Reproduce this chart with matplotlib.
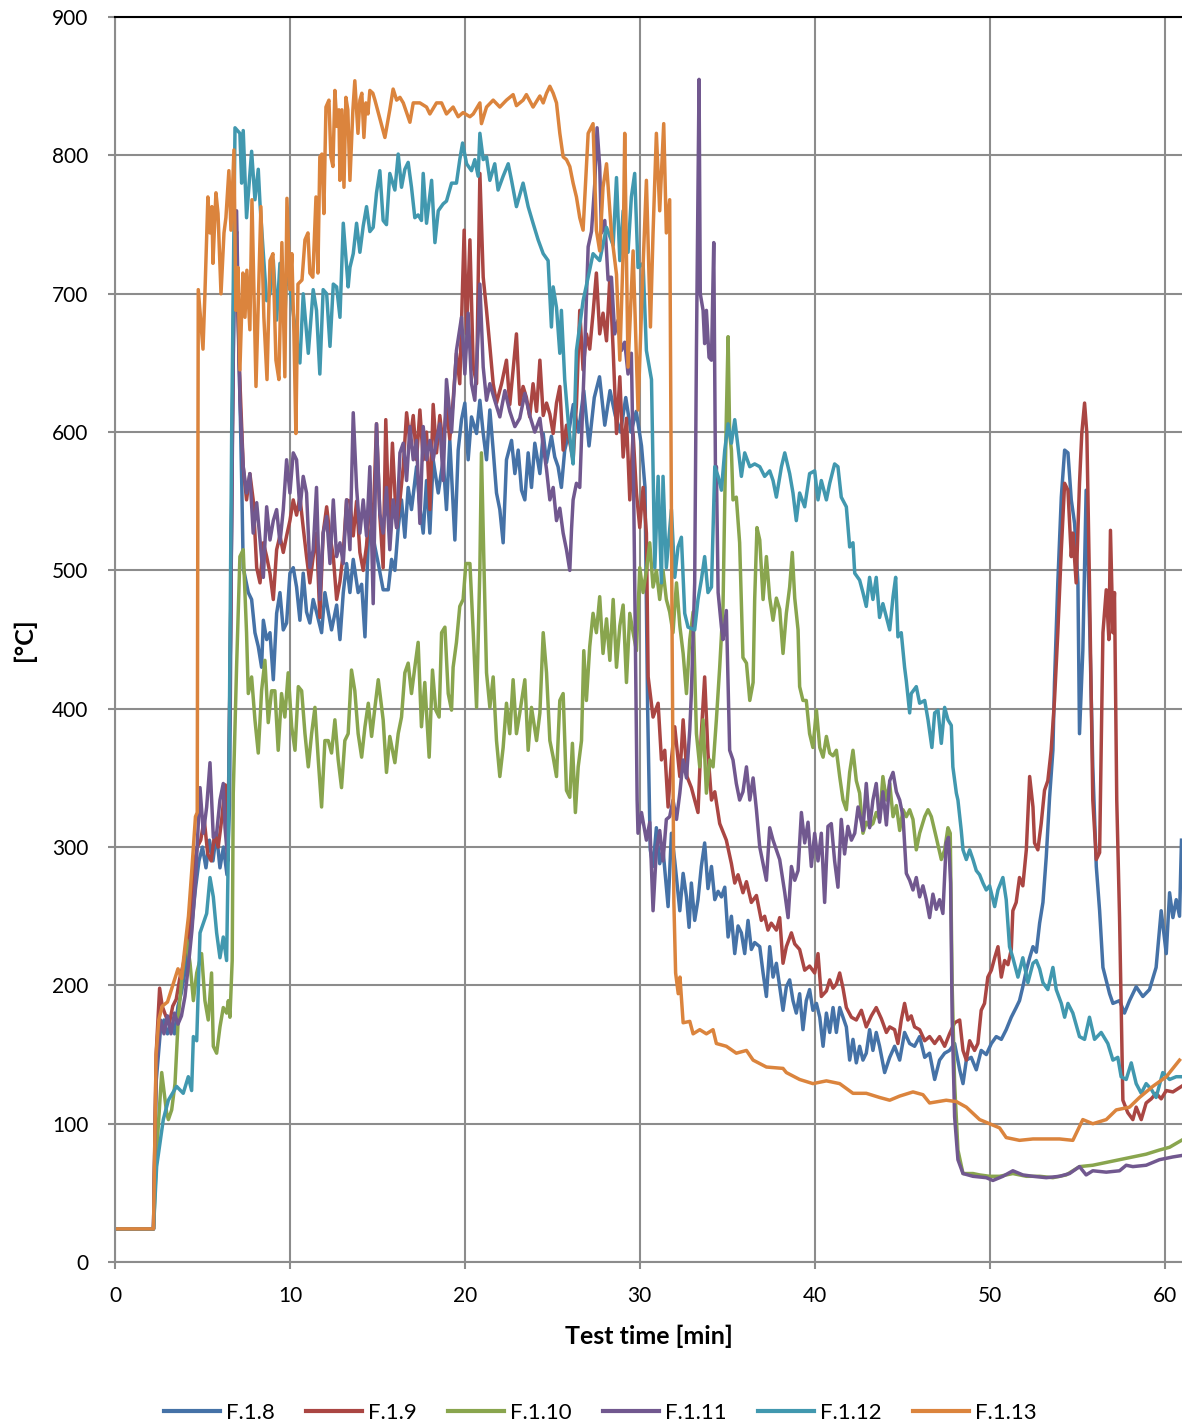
import matplotlib
matplotlib.use("Agg")
import matplotlib.pyplot as plt

plt.rcParams['font.family'] = ['Lato', 'DejaVu Sans']

# --- datos (tiempo [min], temperatura [C]) ---
t_f18 = [0, 2.2, 2.35, 2.6, 2.8, 3.0, 3.2, 3.4, 3.6, 3.8, 4.0, 4.2, 4.4, 4.6, 4.8, 5.0, 5.2, 5.4, 5.6, 5.8, 6.0, 6.2, 6.4, 6.55, 6.7, 6.85, 7.0, 7.15, 7.25,
         7.33, 7.62, 7.81, 8.0, 8.19, 8.38, 8.48, 8.67, 8.86, 9.05, 9.24, 9.43, 9.62, 9.81, 10.0, 10.19, 10.38, 10.57, 10.76, 10.95, 11.14, 11.33, 11.52, 11.81, 12.0, 12.19, 12.38, 12.67, 12.86, 13.05, 13.24, 13.43, 13.62, 13.9, 14.1, 14.29, 14.48, 14.67, 14.86, 15.05,
         15.33, 15.62, 15.81, 16.0, 16.19, 16.38, 16.57, 16.76, 16.95, 17.24, 17.43, 17.62, 17.81, 18.0, 18.19, 18.48, 18.76, 18.95, 19.14, 19.43, 19.62, 19.81, 20.0, 20.19, 20.38, 20.67, 20.86, 21.05, 21.24, 21.43, 21.62, 21.81, 22.0, 22.19, 22.38, 22.67, 22.86, 23.05, 23.24, 23.43, 23.62, 23.81, 24.0, 24.29, 24.48, 24.67, 24.95, 25.14, 25.33, 25.52, 25.71, 25.9,
         26.2, 26.5, 26.8, 27.1, 27.4, 27.7, 28.0, 28.3, 28.6, 28.9, 29.2, 29.5, 29.8, 30.1, 30.3, 30.45, 30.6,
         30.76, 30.95, 31.14, 31.33, 31.62, 31.81, 32.0, 32.29, 32.48, 32.67, 32.82, 32.95, 33.14, 33.33, 33.52, 33.71, 33.9, 34.1, 34.29, 34.48, 34.67, 34.86, 35.05, 35.24, 35.43, 35.62, 35.81, 36.0, 36.19, 36.38, 36.57, 36.86, 37.05, 37.24, 37.43, 37.62, 37.81, 38.0, 38.19, 38.38, 38.57, 38.76, 38.95, 39.14, 39.33, 39.52, 39.71, 39.9, 40.1, 40.29, 40.48, 40.67, 40.86, 41.05, 41.24, 41.43, 41.62, 41.81, 42.0, 42.19, 42.38, 42.57, 42.76, 42.95, 43.14, 43.33, 43.52, 43.71,
         44.0, 44.29, 44.57, 44.86, 45.14, 45.43, 45.71, 46.0, 46.29, 46.57, 46.86, 47.14, 47.43, 47.71, 48.0, 48.29, 48.48, 48.67, 48.95, 49.24, 49.52, 49.81, 50.1, 50.38, 50.67, 50.95, 51.24, 51.52, 51.71, 51.9, 52.1, 52.29, 52.48, 52.67, 52.86, 53.05, 53.24, 53.43, 53.62,
         53.71, 53.9, 54.1, 54.29, 54.48, 54.67, 54.86, 55.05, 55.14, 55.33, 55.52, 55.71, 55.9,
         56.1, 56.29, 56.48, 56.86, 57.05, 57.43, 57.71, 58.0, 58.38, 58.76, 59.14, 59.52, 59.81, 60.1, 60.29, 60.48, 60.67, 60.86, 60.97]
v_f18 = [24, 24, 130, 168, 175, 165, 172, 165, 185, 195, 210, 225, 245, 270, 290, 300, 285, 305, 290, 310, 285, 300, 280, 330, 600, 740, 700, 620, 560,
         502, 484, 479, 455, 445, 430, 464, 450, 455, 421, 469, 484, 457, 462, 498, 502, 488, 464, 498, 470, 462, 479, 470, 455, 484, 470, 457, 475, 450, 484, 505, 484, 508, 484, 490, 452, 522, 531, 517, 505,
         486, 486, 508, 500, 531, 551, 524, 560, 544, 575, 546, 527, 565, 527, 580, 556, 580, 544, 594, 522, 587, 609, 621, 580, 611, 599, 623, 599, 580, 616, 587, 556, 544, 520, 580, 594, 570, 587, 558, 551, 585, 560, 592, 570, 599, 578, 597, 582, 575, 560, 587, 597,
         620, 600, 630, 590, 625, 640, 605, 630, 612, 600, 625, 600, 615, 590, 560, 400, 298,
         286, 314, 288, 298, 257, 310, 290, 254, 281, 264, 242, 274, 247, 262, 286, 303, 270, 286, 262, 268, 264, 271, 235, 250, 223, 243, 238, 223, 247, 226, 231, 228, 209, 192, 228, 206, 216, 199, 182, 199, 204, 189, 180, 194, 168, 189, 197, 182, 187, 177, 156, 180, 166, 184, 166, 184, 177, 170, 146, 161, 144, 156, 146, 151, 168, 153, 166, 156,
         137, 148, 156, 146, 166, 158, 156, 163, 148, 151, 132, 146, 151, 153, 158, 139, 129, 146, 148, 139, 153, 150, 158, 163, 161, 168, 177, 184, 189, 199, 211, 220, 228, 224, 245, 260, 293, 336, 370,
         419, 491, 553, 587, 585, 551, 534, 491, 382, 442, 558, 466, 358,
         286, 254, 213, 194, 187, 189, 180, 189, 199, 192, 197, 213, 254, 223, 267, 249, 262, 250, 305]

t_f19 = [0, 2.2, 2.35, 2.55, 2.7, 2.9, 3.1, 3.3, 3.5, 3.7, 3.9, 4.1, 4.3, 4.5, 4.7, 4.9, 5.1, 5.3, 5.5, 5.7, 5.9, 6.1, 6.3, 6.45, 6.6, 6.8, 6.95, 7.1, 7.25,
         7.33, 7.52, 7.71, 7.9, 8.1, 8.29, 8.48, 8.67, 8.86, 9.05, 9.24, 9.43, 9.62, 9.81, 10.0, 10.19, 10.38, 10.57, 10.76, 10.95, 11.14, 11.33, 11.52, 11.71, 11.9, 12.1, 12.29, 12.48, 12.67, 12.86, 13.05, 13.24, 13.43, 13.62, 13.81, 14.0, 14.19, 14.38, 14.57, 14.76, 14.95, 15.14, 15.33, 15.48, 15.67, 15.86, 16.1, 16.29,
         16.48, 16.67, 16.86, 17.05, 17.24, 17.43, 17.62, 17.81, 18.0, 18.19, 18.38, 18.57, 18.76, 18.95, 19.14, 19.33, 19.52, 19.71, 19.96, 20.1, 20.29, 20.48, 20.67, 20.86, 21.05, 21.24, 21.43, 21.62, 21.81, 22.1, 22.38, 22.57, 22.76, 22.95, 23.14, 23.33, 23.52, 23.71, 23.9, 24.1, 24.29, 24.48, 24.67, 24.86, 25.05, 25.24, 25.43, 25.62, 25.81, 26.19, 26.38, 26.57, 26.76, 26.95, 27.14, 27.33, 27.52, 27.71, 27.9, 28.1, 28.29, 28.48, 28.67, 28.86, 29.05, 29.24, 29.43, 29.62, 29.81, 30.0, 30.19, 30.38,
         30.48, 30.76, 31.05, 31.24, 31.43, 31.62, 31.81, 32.0, 32.29, 32.48, 32.7, 32.95, 33.14, 33.33, 33.52, 33.71, 33.9, 34.1, 34.29, 34.57, 34.95,
         35.24, 35.43, 35.62, 35.9, 36.1, 36.38, 36.67, 36.95, 37.14, 37.33, 37.52, 37.81, 38.0, 38.19, 38.38, 38.67, 38.86, 39.14, 39.43, 39.71, 40.0, 40.19, 40.38, 40.67, 40.86, 41.05, 41.24, 41.43, 41.62, 41.81, 42.1, 42.38, 42.67, 42.95, 43.24, 43.52, 43.81, 44.1, 44.29, 44.57, 44.76, 44.95, 45.14, 45.33, 45.52, 45.71,
         46.0, 46.29, 46.57, 46.86, 47.14, 47.43, 47.71, 48.0, 48.29, 48.48, 48.67, 48.86, 49.14, 49.33, 49.52, 49.71, 49.9, 50.1, 50.29, 50.48, 50.67, 50.86, 51.05, 51.24, 51.33, 51.52, 51.71, 51.9, 52.1, 52.29, 52.48, 52.57, 52.76, 52.95, 53.14, 53.33,
         53.52, 53.71, 53.9, 54.1, 54.29, 54.48, 54.67, 54.76, 54.95, 55.14, 55.27, 55.43, 55.56, 55.71, 55.9,
         56.1, 56.29, 56.38, 56.48, 56.67, 56.82, 56.91, 57.05, 57.14, 57.27, 57.43, 57.62, 57.9, 58.19, 58.38, 58.67, 58.95, 59.24, 59.52, 59.81, 60.1, 60.48, 60.97]
v_f19 = [24, 24, 150, 198, 185, 178, 172, 185, 190, 205, 215, 230, 245, 285, 300, 305, 320, 295, 290, 310, 300, 320, 345, 300, 450, 720, 745, 650, 600,
         575, 551, 570, 551, 502, 491, 520, 510, 498, 479, 515, 525, 513, 525, 536, 551, 540, 553, 531, 510, 491, 510, 527, 466, 527, 546, 525, 510, 479, 492, 513, 551, 550, 525, 550, 513, 500, 518, 551, 535, 606, 540, 502, 609, 530, 592, 531, 551,
         575, 614, 593, 612, 580, 616, 580, 600, 544, 620, 585, 612, 590, 618, 595, 623, 657, 635, 746, 671, 739, 647, 635, 787, 712, 688, 662, 635, 621, 635, 652, 620, 645, 671, 620, 633, 625, 611, 635, 615, 652, 612, 621, 613, 599, 621, 633, 587, 605, 580, 620, 688, 645, 671, 660, 686, 715, 671, 686, 666, 712, 659, 599, 640, 582, 610, 551, 599, 556, 531, 560, 527,
         423, 394, 404, 363, 370, 329, 363, 387, 351, 392, 351, 343, 334, 325, 382, 423, 368, 334, 340, 317, 305,
         288, 274, 280, 267, 275, 260, 265, 247, 250, 240, 245, 240, 249, 216, 228, 238, 230, 226, 211, 214, 209, 223, 192, 196, 204, 198, 201, 209, 198, 184, 177, 175, 182, 170, 178, 184, 176, 166, 170, 168, 158, 175, 187, 175, 178, 170,
         168, 160, 163, 158, 163, 156, 165, 173, 175, 153, 146, 160, 153, 158, 182, 187, 206, 211, 220, 228, 206, 218, 215, 226, 254, 260, 278, 272, 298, 351, 329, 303, 298, 317, 341, 348,
         370, 406, 455, 515, 563, 558, 510, 527, 491, 563, 599, 621, 599, 491, 334,
         291, 296, 370, 455, 486, 450, 529, 455, 484, 334, 249, 117, 108, 103, 112, 103, 115, 118, 122, 118, 124, 123, 127]

t_f110 = [0, 2.2, 2.38, 2.67, 2.95, 3.05, 3.24, 3.43, 3.62, 3.81, 4.1, 4.29, 4.48, 4.67, 4.95, 5.14, 5.33, 5.52, 5.62, 5.81, 6.0, 6.19, 6.38, 6.48, 6.57, 6.7, 6.76, 6.95, 7.14, 7.33, 7.52, 7.62, 7.81, 8.0, 8.19, 8.38, 8.57, 8.76, 8.95, 9.14, 9.33, 9.52, 9.71, 9.9, 10.1, 10.29, 10.48, 10.67, 10.86, 11.05, 11.24, 11.43, 11.62, 11.81, 12.0, 12.19, 12.38, 12.57, 12.76, 12.95, 13.14, 13.33, 13.52, 13.71, 13.9, 14.1, 14.29, 14.48, 14.67, 14.86, 15.05,
          15.33, 15.52, 15.71, 16.0, 16.19, 16.38, 16.57, 16.76, 16.95, 17.14, 17.33, 17.52, 17.71, 17.96, 18.15, 18.34, 18.53, 18.67, 18.86, 19.05, 19.24, 19.33, 19.52, 19.71, 19.9, 20.06, 20.29, 20.48, 20.67, 20.86, 20.95, 21.1, 21.24, 21.43, 21.62, 21.81, 22.0, 22.19, 22.38, 22.57, 22.76, 22.95, 23.14, 23.43, 23.62, 23.81, 24.1, 24.29, 24.48, 24.67, 24.86, 25.05, 25.24, 25.43, 25.62, 25.81, 26.0, 26.15, 26.32, 26.48, 26.67, 26.8, 26.95, 27.14, 27.33, 27.52, 27.71, 27.9, 28.1, 28.29, 28.48, 28.67, 28.86, 29.05, 29.24,
          29.43, 29.62, 29.81, 30.0, 30.19, 30.38, 30.57, 30.76, 30.95, 31.14, 31.33, 31.52, 31.71, 31.9, 32.1, 32.29, 32.48, 32.67, 32.86, 33.05, 33.24, 33.43, 33.62, 33.81, 34.0, 34.19, 34.38, 34.57, 34.76, 34.86, 34.95, 35.05, 35.14, 35.24, 35.33, 35.52, 35.71, 35.9, 36.1, 36.29, 36.48, 36.57, 36.7, 36.86, 37.05, 37.24, 37.43, 37.62, 37.81, 38.0, 38.19, 38.38, 38.57, 38.72, 38.86, 39.05, 39.14, 39.33, 39.52, 39.71, 39.9, 40.1, 40.29, 40.48, 40.67, 40.86, 41.05, 41.24, 41.43, 41.62, 41.81, 42.0, 42.19, 42.38, 42.57, 42.76, 42.95, 43.14, 43.33, 43.52, 43.71,
          43.9, 44.1, 44.29, 44.48, 44.67, 44.86, 45.05, 45.24, 45.43, 45.62, 45.81, 46.0, 46.29, 46.48, 46.67, 46.95, 47.24, 47.43, 47.62, 47.75, 47.86, 48.0, 48.19, 48.48, 49.05, 49.43, 50.0, 50.57, 51.33, 52.1, 52.86, 53.62, 54.38, 55.14, 55.9, 56.67, 57.43, 58.19, 58.95, 59.71, 60.29, 60.97]
v_f110 = [24, 24, 80, 137, 108, 103, 110, 129, 177, 204, 233, 216, 189, 209, 223, 189, 175, 209, 156, 151, 170, 184, 180, 189, 177, 218, 339, 430, 510, 515, 455, 411, 423, 392, 368, 413, 435, 390, 413, 413, 370, 411, 394, 426, 387, 370, 416, 413, 382, 358, 382, 401, 363, 329, 377, 377, 368, 392, 363, 343, 377, 382, 428, 413, 382, 365, 387, 404, 380, 401, 421,
          392, 354, 380, 361, 382, 394, 426, 433, 411, 430, 448, 387, 419, 365, 428, 399, 394, 455, 459, 411, 399, 430, 448, 474, 479, 505, 505, 455, 401, 502, 585, 500, 426, 401, 423, 377, 351, 372, 404, 382, 421, 382, 397, 421, 370, 401, 377, 397, 455, 426, 377, 365, 351, 406, 411, 341, 336, 375, 325, 358, 377, 442, 406, 445, 469, 455, 481, 440, 465, 435, 479, 430, 460, 475, 419,
          469, 455, 442, 502, 484, 500, 520, 488, 500, 479, 500, 479, 470, 455, 491, 460, 440, 411, 450, 470, 382, 358, 392, 339, 363, 358, 392, 430, 474, 551, 611, 669, 599, 587, 551, 553, 520, 437, 433, 406, 419, 479, 531, 522, 479, 510, 480, 464, 480, 472, 440, 469, 488, 513, 480, 457, 416, 406, 406, 382, 372, 399, 372, 365, 380, 368, 366, 370, 351, 334, 327, 354, 370, 348, 339, 310, 318, 315, 317, 325, 320,
          351, 334, 346, 322, 330, 312, 327, 322, 327, 320, 298, 310, 322, 327, 322, 307, 291, 298, 314, 310, 200, 129, 81, 64, 64, 63, 62, 62, 64, 62, 62, 61, 63, 69, 70, 72, 74, 76, 78, 81, 83, 88]

t_f111 = [0, 2.2, 2.35, 2.6, 2.8, 3.0, 3.2, 3.4, 3.6, 3.8, 4.0, 4.2, 4.4, 4.6, 4.86, 5.05, 5.24, 5.43, 5.62, 5.81, 6.0, 6.19, 6.29, 6.45, 6.6, 6.8, 6.95, 7.14, 7.33, 7.52, 7.71, 7.9, 8.1, 8.29, 8.48, 8.67, 8.86, 9.05, 9.24, 9.43, 9.62, 9.81, 10.0, 10.19, 10.38, 10.57, 10.76, 10.95, 11.14, 11.33, 11.52, 11.71, 11.9, 12.1, 12.29, 12.48, 12.67, 12.86, 13.05, 13.24, 13.43, 13.62, 13.81, 14.0, 14.19, 14.38, 14.57, 14.76, 14.95, 15.14, 15.33, 15.52, 15.71, 15.9,
          16.1, 16.29, 16.48, 16.67, 16.86, 17.05, 17.24, 17.43, 17.62, 17.81, 18.0, 18.19, 18.38, 18.57, 18.76, 18.95, 19.24, 19.52, 19.81, 20.0, 20.19, 20.38, 20.57, 20.76, 20.86, 21.05, 21.24, 21.43, 21.71, 22.0, 22.29, 22.57, 22.86, 23.14, 23.43, 23.71, 24.0, 24.29, 24.48, 24.67, 24.86, 25.05, 25.24, 25.43, 25.62, 25.81, 26.0, 26.1, 26.19, 26.38, 26.57, 26.8, 27.05, 27.24, 27.43, 27.56, 27.71, 27.81, 28.0, 28.19, 28.38, 28.57, 28.76, 28.95, 29.14, 29.33, 29.52, 29.65, 29.75, 29.85, 29.9,
          30.1, 30.38, 30.57, 30.76, 30.95, 31.14, 31.33, 31.52, 31.71, 31.9, 32.1, 32.29, 32.48, 32.67, 32.86, 32.95, 33.14, 33.24, 33.39, 33.46, 33.62, 33.71, 33.81, 33.96, 34.1, 34.23, 34.34, 34.38, 34.48, 34.67, 34.76, 34.95, 35.14, 35.33, 35.52, 35.71, 35.9, 36.1, 36.29, 36.48, 36.67, 36.86,
          37.24, 37.43, 37.62, 38.0, 38.29, 38.48, 38.67, 38.86, 39.05, 39.24, 39.43, 39.62, 39.81, 40.0, 40.19, 40.38, 40.57, 40.76, 40.95, 41.14, 41.33, 41.52, 41.71, 41.9, 42.1, 42.29, 42.48, 42.67, 42.76, 42.95, 43.14, 43.33, 43.52, 43.71, 43.9, 44.1, 44.29, 44.48, 44.67,
          44.86, 45.05, 45.24, 45.43, 45.62, 45.81, 46.0, 46.19, 46.38, 46.57, 46.76, 46.95, 47.14, 47.33, 47.52, 47.65, 47.77, 47.86, 48.0, 48.19, 48.48, 49.05, 49.81, 50.19, 50.76, 51.33, 51.9, 52.48, 53.24, 54.0, 54.57, 55.14, 55.52, 55.9, 56.67, 57.43, 57.81, 58.19, 58.95, 59.71, 60.48, 60.97]
v_f111 = [24, 24, 140, 175, 165, 178, 165, 180, 172, 178, 192, 215, 240, 275, 343, 310, 329, 361, 307, 310, 334, 346, 314, 290, 450, 700, 760, 623, 575, 556, 570, 527, 549, 522, 495, 546, 522, 536, 544, 520, 544, 580, 556, 585, 580, 544, 568, 556, 502, 515, 560, 479, 527, 539, 505, 551, 510, 520, 505, 551, 515, 614, 560, 527, 551, 525, 575, 476, 606, 541, 527, 560, 515, 551,
          531, 585, 592, 565, 604, 580, 594, 534, 604, 580, 594, 580, 594, 606, 565, 638, 600, 659, 683, 642, 686, 635, 623, 671, 707, 647, 623, 635, 623, 611, 630, 615, 604, 610, 628, 612, 600, 610, 590, 573, 551, 560, 536, 545, 527, 515, 500, 530, 551, 563, 560, 640, 734, 745, 780, 820, 792, 744, 753, 710, 712, 671, 681, 659, 665, 642, 657, 560, 450, 334, 310,
          325, 305, 318, 254, 298, 312, 290, 320, 322, 334, 320, 339, 363, 350, 385, 411, 491, 659, 855, 700, 688, 664, 688, 654, 652, 737, 551, 575, 484, 459, 450, 471, 370, 363, 346, 334, 340, 358, 334, 350, 327, 300,
          276, 314, 305, 291, 267, 249, 286, 276, 283, 325, 303, 318, 286, 310, 290, 310, 260, 315, 317, 290, 271, 320, 295, 315, 305, 310, 329, 318, 312, 346, 314, 334, 346, 318, 340, 316, 348, 354, 340,
          334, 322, 281, 276, 269, 278, 264, 272, 262, 249, 266, 255, 262, 252, 303, 307, 274, 177, 105, 74, 64, 62, 61, 59, 62, 66, 63, 62, 61, 62, 64, 69, 63, 66, 65, 66, 70, 69, 70, 74, 76, 77]

t_f112 = [0, 2.2, 2.38, 2.76, 3.05, 3.52, 3.9, 4.19, 4.38, 4.48, 4.67, 4.86, 5.05, 5.24, 5.43, 5.62, 5.81, 6.0, 6.19, 6.38, 6.48, 6.67, 6.86, 7.14, 7.24, 7.33, 7.52, 7.81, 8.0, 8.19, 8.29, 8.48, 8.67, 8.86, 9.05, 9.24, 9.43, 9.71, 9.81, 10.0, 10.29, 10.57, 10.76, 11.05, 11.33, 11.52, 11.71, 11.9, 12.1, 12.29, 12.48, 12.67, 12.86, 13.05, 13.33, 13.43, 13.62, 13.81, 14.0, 14.19, 14.38, 14.57, 14.76, 14.95, 15.14, 15.33, 15.52, 15.71, 16.0, 16.19, 16.38,
          16.57, 16.76, 16.95, 17.14, 17.33, 17.52, 17.62, 17.81, 18.1, 18.29, 18.48, 18.76, 18.95, 19.24, 19.52, 19.71, 19.87, 20.1, 20.38, 20.57, 20.76, 20.86, 21.05, 21.24, 21.43, 21.71, 21.9, 22.19, 22.48, 22.67, 22.95, 23.33, 23.62, 23.9, 24.19, 24.48, 24.76, 24.95, 25.05, 25.24, 25.43, 25.52, 25.71, 25.9, 26.1, 26.19, 26.38, 26.76, 27.05, 27.33, 27.71, 28.1, 28.48, 28.67, 28.86, 29.05, 29.33, 29.52, 29.71, 29.9, 30.19, 30.38, 30.67,
          30.86, 31.05, 31.24, 31.33, 31.52, 31.81, 32.0, 32.19, 32.38, 32.57, 32.76, 33.14, 33.33, 33.52, 33.71, 33.9, 34.1, 34.29, 34.48, 34.67, 34.86, 35.05, 35.24, 35.43, 35.62, 35.81, 36.0, 36.29, 36.57, 36.86, 37.14, 37.43, 37.62, 37.81, 38.1, 38.29, 38.57, 38.76, 38.95, 39.14, 39.43, 39.71, 40.0, 40.19, 40.38, 40.67, 40.86, 41.14, 41.33, 41.52, 41.81, 42.0, 42.19, 42.29, 42.57, 42.76, 42.95, 43.14, 43.33, 43.52, 43.71,
          43.9, 44.29, 44.48, 44.63, 44.76, 44.95, 45.14, 45.24, 45.43, 45.52, 45.81, 46.0, 46.29, 46.48, 46.7, 46.86, 47.05, 47.24, 47.43, 47.62, 47.81, 47.9, 48.1,
          48.19, 48.38, 48.48, 48.67, 48.86, 49.05, 49.24, 49.43, 49.62, 49.81, 50.0, 50.29, 50.48, 50.76, 50.95, 51.14, 51.33, 51.62, 51.9, 52.19, 52.48, 52.67, 52.86, 53.05, 53.33, 53.62, 53.81, 54.1, 54.29, 54.48, 54.76, 55.14, 55.43, 55.71, 56.0, 56.38, 56.76, 57.05, 57.33, 57.52, 57.81, 58.1, 58.38, 58.67, 58.95, 59.24, 59.52, 59.9, 60.29, 60.67, 60.97]
v_f112 = [24, 24, 69, 103, 117, 127, 122, 134, 124, 163, 160, 238, 245, 252, 278, 264, 238, 220, 235, 218, 300, 600, 820, 816, 780, 818, 755, 803, 768, 790, 765, 729, 695, 700, 724, 681, 722, 681, 715, 705, 676, 650, 700, 657, 703, 688, 642, 703, 700, 662, 707, 705, 683, 751, 705, 719, 729, 751, 730, 749, 763, 745, 748, 773, 789, 753, 750, 787, 775, 801, 777,
          790, 795, 777, 755, 757, 753, 787, 751, 782, 737, 760, 765, 767, 780, 780, 797, 809, 794, 789, 797, 785, 816, 797, 799, 782, 794, 775, 785, 794, 782, 763, 780, 763, 751, 739, 729, 724, 676, 705, 690, 657, 688, 638, 609, 585, 577, 659, 695, 712, 729, 724, 748, 735, 784, 724, 760, 730, 770, 787, 719, 722, 659, 638,
          502, 568, 491, 568, 502, 544, 495, 517, 524, 469, 459, 457, 479, 493, 510, 484, 488, 575, 568, 558, 587, 606, 592, 609, 589, 568, 585, 575, 577, 575, 568, 572, 565, 553, 575, 585, 570, 556, 536, 556, 546, 570, 572, 551, 565, 551, 563, 577, 575, 553, 546, 517, 520, 498, 493, 484, 474, 495, 479, 495, 466,
          476, 457, 481, 495, 452, 455, 430, 420, 397, 411, 416, 404, 406, 392, 372, 397, 399, 375, 401, 392, 388, 358, 339,
          334, 312, 298, 291, 298, 291, 283, 280, 274, 269, 272, 257, 269, 278, 262, 228, 220, 206, 220, 202, 216, 218, 212, 202, 197, 213, 197, 187, 177, 187, 180, 163, 161, 177, 161, 166, 158, 146, 148, 134, 132, 144, 129, 122, 129, 125, 119, 137, 132, 134, 134]

t_f113 = [0, 2.2, 2.35, 2.5, 2.7, 3.0, 3.3, 3.6, 3.8, 4.0, 4.2, 4.4, 4.6, 4.7, 4.76, 5.03, 5.14, 5.31, 5.43, 5.54, 5.6, 5.77, 5.89, 6.06, 6.23, 6.34, 6.51, 6.63, 6.8, 6.91, 7.03, 7.14, 7.31, 7.43, 7.54, 7.71, 7.83, 8.06, 8.17, 8.34, 8.51, 8.69, 8.86, 9.03, 9.2, 9.37, 9.54, 9.71, 9.83, 10.0, 10.11, 10.23, 10.34, 10.46, 10.69, 10.86, 11.03, 11.14, 11.31, 11.49, 11.6, 11.71, 11.83, 11.94, 12.06, 12.23, 12.34, 12.46, 12.57, 12.69, 12.8, 12.86, 12.97, 13.09, 13.2, 13.31, 13.43, 13.6, 13.71, 13.89, 14.0, 14.11, 14.23, 14.34, 14.46, 14.57, 14.74, 14.86,
          15.43, 15.71, 15.9, 16.1, 16.29, 16.48, 16.86, 17.05, 17.43, 17.81, 18.0, 18.38, 18.67, 18.95, 19.33, 19.62, 19.9, 20.29, 20.48, 20.86, 20.95, 21.24, 21.62, 22.0, 22.38, 22.76, 22.95, 23.33, 23.52, 23.9, 24.29, 24.48, 24.67, 24.86, 25.05, 25.24, 25.43, 25.62, 25.81, 26.0, 26.19, 26.38, 26.57, 26.76, 27.05, 27.33, 27.52, 27.71, 27.9, 28.1, 28.38, 28.67, 28.86, 29.05, 29.14, 29.33, 29.62, 29.9, 30.19, 30.38, 30.61, 30.76, 30.95, 31.14, 31.37, 31.52, 31.71,
          31.85, 31.95, 32.05, 32.2, 32.3, 32.48, 32.86, 33.05, 33.43, 33.81, 34.19, 34.38, 34.95, 35.52, 36.1, 36.48, 37.24, 38.19, 38.38, 39.14, 39.9, 40.67, 41.43, 42.19, 42.95, 43.71, 44.29, 44.86, 45.62, 46.19, 46.57, 47.52, 48.1, 48.67, 49.43, 50.0, 50.57, 50.95, 51.71, 52.48, 53.24, 54.0, 54.76, 55.33, 55.9, 56.67, 57.24, 58.0, 58.57, 59.33, 60.1, 60.86]
v_f113 = [24, 24, 150, 175, 185, 188, 200, 212, 205, 228, 250, 285, 322, 325, 703, 660, 700, 770, 744, 763, 722, 773, 758, 700, 744, 755, 789, 746, 804, 688, 719, 645, 715, 683, 717, 674, 768, 633, 683, 763, 683, 638, 724, 729, 652, 638, 737, 640, 769, 703, 729, 671, 599, 707, 710, 739, 744, 715, 712, 770, 715, 799, 801, 758, 835, 840, 799, 792, 847, 821, 833, 782, 833, 777, 842, 833, 782, 833, 854, 816, 840, 845, 813, 838, 830, 847, 845, 840,
          813, 833, 848, 840, 842, 838, 824, 838, 838, 835, 830, 838, 838, 830, 835, 828, 831, 828, 830, 838, 823, 835, 840, 835, 840, 844, 836, 840, 844, 835, 843, 838, 845, 850, 845, 838, 816, 799, 797, 792, 780, 770, 755, 746, 816, 823, 746, 731, 777, 794, 744, 714, 652, 730, 816, 647, 731, 616, 720, 782, 676, 744, 816, 760, 823, 744, 768,
          450, 260, 209, 194, 206, 173, 174, 165, 168, 165, 168, 158, 156, 151, 153, 146, 141, 140, 137, 132, 129, 131, 129, 122, 122, 119, 117, 120, 123, 121, 115, 117, 116, 112, 103, 100, 97, 90, 88, 89, 89, 89, 88, 103, 100, 103, 110, 112, 119, 127, 134, 146]

series = [
    ("F.1.8", t_f18, v_f18, "#4572A7"),
    ("F.1.9", t_f19, v_f19, "#AA4643"),
    ("F.1.10", t_f110, v_f110, "#89A54E"),
    ("F.1.11", t_f111, v_f111, "#71588F"),
    ("F.1.12", t_f112, v_f112, "#4198AF"),
    ("F.1.13", t_f113, v_f113, "#DB843D"),
]

fig = plt.figure(figsize=(11.82, 14.28), dpi=100)
ax = fig.add_axes([0.0973, 0.1162, 0.9027, 0.8718])

for nombre, t, v, color in series:
    ax.plot(t, v, color=color, lw=2.5, label=nombre, solid_joinstyle='round')

ax.set_xlim(0, 61)
ax.set_ylim(0, 900)
ax.set_xticks(range(0, 61, 10))
ax.set_yticks(range(0, 901, 100))
ax.grid(True, color="#8c8c8c", lw=1.5)
ax.set_axisbelow(True)
ax.tick_params(axis='both', labelsize=15, length=5, width=1.5, color="#8c8c8c")
ax.tick_params(axis='x', pad=12)
ax.tick_params(axis='y', pad=14)
for s in ["left", "bottom"]:
    ax.spines[s].set_color("#8c8c8c")
    ax.spines[s].set_linewidth(1.5)
ax.spines["top"].set_color("black")
ax.spines["top"].set_linewidth(1.5)
ax.spines["right"].set_visible(False)

ax.set_xlabel("Test time [min]", fontsize=18, fontweight="bold", labelpad=14)
ax.set_ylabel("[°C]", fontsize=18, fontweight="bold", labelpad=12)

leg = fig.legend(loc="center", bbox_to_anchor=(0.508, 0.0105), ncol=6, frameon=False,
                 fontsize=16, handlelength=2.5, columnspacing=1.4, handletextpad=0.3)
for h in leg.get_lines():
    h.set_linewidth(3)

fig.savefig("out.png", dpi=100)
